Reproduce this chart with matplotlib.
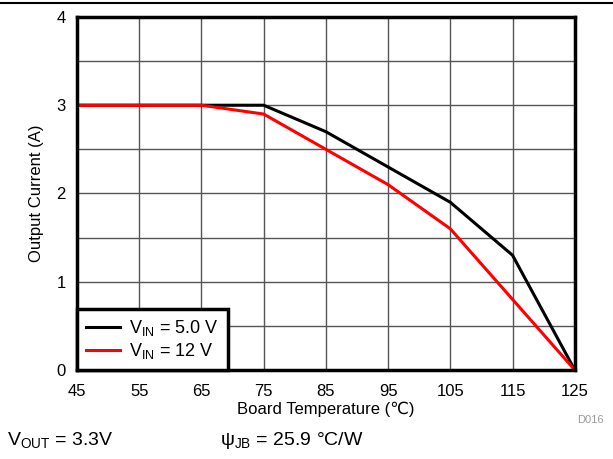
import matplotlib
matplotlib.use("Agg")
import matplotlib.pyplot as plt
from matplotlib.lines import Line2D
import numpy as np

plt.rcParams['font.family'] = ['Liberation Sans', 'DejaVu Sans']
plt.rcParams['mathtext.fontset'] = 'custom'
plt.rcParams['mathtext.rm'] = 'Liberation Sans'
plt.rcParams['mathtext.it'] = 'Liberation Sans'
plt.rcParams['mathtext.default'] = 'regular'

# board temperature (C)
temp = [45, 55, 65, 75, 85, 95, 105, 115, 125]
# output current (A)
i_5v = [3.0, 3.0, 3.0, 3.0, 2.7, 2.3, 1.9, 1.3, 0.0]
i_12v = [3.0, 3.0, 3.0, 2.9, 2.5, 2.1, 1.6, 0.8, 0.0]

labels = ['$V_{IN}$ = 5.0 V', '$V_{IN}$ = 12 V']
xticks = np.arange(45, 126, 10)

fig = plt.figure(figsize=(6.13, 4.59), dpi=100)
ax = fig.add_axes([0.1256, 0.194, 0.812, 0.769])

ax.plot(temp, i_5v, color='black', lw=2.2, label=labels[0], zorder=3)
ax.plot(temp, i_12v, color='#ff0000', lw=2.2, label=labels[1], zorder=4)

ax.set_xlim(45, 125)
ax.set_ylim(0, 4)
ax.set_xticks(xticks)
ax.set_yticks([0, 1, 2, 3, 4])
ax.set_yticks(np.arange(0.5, 4, 1), minor=True)
ax.grid(True, which='major', color='#555555', lw=1, zorder=1)
ax.grid(True, which='minor', axis='y', color='#555555', lw=1, zorder=1)
ax.tick_params(which='both', length=0, labelsize=12)
ax.tick_params(axis='x', pad=10)
ax.tick_params(axis='y', pad=8)
for s in ax.spines.values():
    s.set_linewidth(2.5)
    s.set_zorder(5)

ax.set_xlabel('Board Temperature (\u2103)', fontsize=12, labelpad=2)
ax.set_ylabel('Output Current (A)', fontsize=12, labelpad=9)

leg = ax.legend(loc='lower left', fontsize=13, frameon=True, fancybox=False,
                framealpha=1, borderaxespad=0, handlelength=1.9,
                handletextpad=0.5, borderpad=0.5, labelspacing=0.15)
leg.get_frame().set_edgecolor('black')
leg.get_frame().set_linewidth(2.5)
leg.set_zorder(6)

fig.add_artist(Line2D([0, 1], [0.993, 0.993], color='black', lw=1.5,
                      transform=fig.transFigure))
fig.text(0.985, 0.085, 'D016', fontsize=8, color='#999999', ha='right', va='center')
fig.text(0.012, 0.041, '$V_{OUT}$ = 3.3V', fontsize=14, ha='left', va='center')
fig.text(0.359, 0.041, '\u03c8$_{JB}$ = 25.9 \u00b0C/W', fontsize=14, ha='left', va='center')

fig.savefig('out.png', dpi=100)
